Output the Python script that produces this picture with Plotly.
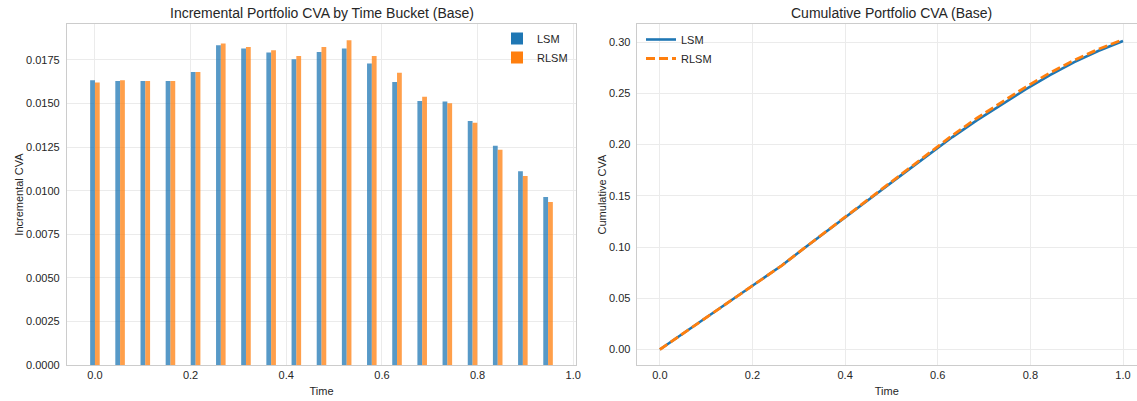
import plotly.graph_objects as go

# ---- data ----
bucket_times = [0.0, 0.0526, 0.1053, 0.1579, 0.2105, 0.2632, 0.3158, 0.3684, 0.4211, 0.4737,
                0.5263, 0.5789, 0.6316, 0.6842, 0.7368, 0.7895, 0.8421, 0.8947, 0.9474]
lsm_incremental = [0.01633, 0.01629, 0.01629, 0.01629, 0.01681, 0.01834, 0.01815, 0.01792, 0.01754, 0.01796,
                   0.01815, 0.01729, 0.01624, 0.01515, 0.01511, 0.01400, 0.01258, 0.01111, 0.00964]
rlsm_incremental = [0.01620, 0.01633, 0.01629, 0.01629, 0.01681, 0.01844, 0.01824, 0.01805, 0.01773, 0.01824,
                    0.01863, 0.01773, 0.01677, 0.01539, 0.01501, 0.01390, 0.01234, 0.01084, 0.00935]

grid_times = [0.0, 0.0526, 0.1053, 0.1579, 0.2105, 0.2632, 0.3158, 0.3684, 0.4211, 0.4737,
              0.5263, 0.5789, 0.6316, 0.6842, 0.7368, 0.7895, 0.8421, 0.8947, 0.9474, 1.0]
lsm_cumulative = [0.0, 0.01633, 0.03262, 0.04891, 0.06520, 0.08201, 0.10035, 0.11850, 0.13642, 0.15396,
                  0.17192, 0.19007, 0.20736, 0.22360, 0.23875, 0.25386, 0.26786, 0.28044, 0.29155, 0.30119]
rlsm_cumulative = [0.0, 0.01620, 0.03253, 0.04882, 0.06511, 0.08192, 0.10036, 0.11860, 0.13665, 0.15438,
                   0.17262, 0.19125, 0.20898, 0.22575, 0.24114, 0.25615, 0.27005, 0.28239, 0.29323, 0.30258]

x_ticks = [0.0, 0.2, 0.4, 0.6, 0.8, 1.0]
left_y_ticks = [0.0, 0.0025, 0.005, 0.0075, 0.01, 0.0125, 0.015, 0.0175]
right_y_ticks = [0.0, 0.05, 0.10, 0.15, 0.20, 0.25, 0.30]

# ---- style ----
W, H = 1137, 401
FONT = "Liberation Sans, Arial, sans-serif"
TXT = "#262626"
GRID = "#ebebeb"
SPINE = "#cccccc"
BLUE = "#1f77b4"
ORANGE = "#ff7f0e"

fig = go.Figure()

fig.add_trace(go.Bar(x=bucket_times, y=lsm_incremental, width=0.01, offset=-0.01,
                     marker=dict(color=BLUE, opacity=0.75, line=dict(width=0)),
                     name="LSM", xaxis="x", yaxis="y", legend="legend"))
fig.add_trace(go.Bar(x=bucket_times, y=rlsm_incremental, width=0.01, offset=0.0,
                     marker=dict(color=ORANGE, opacity=0.75, line=dict(width=0)),
                     name="RLSM", xaxis="x", yaxis="y", legend="legend"))

fig.add_trace(go.Scatter(x=grid_times, y=lsm_cumulative, mode="lines",
                         line=dict(color=BLUE, width=2.6), name="LSM",
                         xaxis="x2", yaxis="y2", legend="legend2"))
fig.add_trace(go.Scatter(x=grid_times, y=rlsm_cumulative, mode="lines",
                         line=dict(color=ORANGE, width=2.8, dash="9px,4px"), name="RLSM",
                         xaxis="x2", yaxis="y2", legend="legend2"))

ydom = [1 - 365 / H, 1 - 24 / H]
axis_common = dict(showgrid=True, gridcolor=GRID, gridwidth=1, zeroline=False,
                   showline=True, linecolor=SPINE, linewidth=1.2, ticks="", automargin=False,
                   tickfont=dict(family=FONT, size=11, color=TXT))

fig.update_layout(
    template="none",
    width=W, height=H,
    margin=dict(l=0, r=0, t=0, b=0, pad=0),
    paper_bgcolor="white", plot_bgcolor="white",
    barmode="overlay",
    font=dict(family=FONT, color=TXT, size=11),
    xaxis=dict(domain=[67 / W, 576 / W], range=[-0.0584, 1.0058], tickvals=x_ticks,
               tickformat=".1f", mirror=True, anchor="y", ticklabelstandoff=0,
               title=dict(text="Time", font=dict(family=FONT, size=11, color=TXT), standoff=7),
               **axis_common),
    yaxis=dict(domain=ydom, range=[0, 0.01956], tickvals=left_y_ticks, tickformat=".4f",
               mirror=True, anchor="x", ticklabelstandoff=4,
               title=dict(text="Incremental CVA", font=dict(family=FONT, size=11, color=TXT), standoff=0),
               **axis_common),
    xaxis2=dict(domain=[636.7 / W, 1.0], range=[-0.05, 1.0302], tickvals=x_ticks,
                tickformat=".1f", mirror=True, anchor="y2", ticklabelstandoff=0,
                title=dict(text="Time", font=dict(family=FONT, size=11, color=TXT), standoff=7),
                **axis_common),
    yaxis2=dict(domain=ydom, range=[-0.01513, 0.31771], tickvals=right_y_ticks, tickformat=".2f",
                mirror=False, anchor="x2", ticklabelstandoff=3,
                title=dict(text="Cumulative CVA", font=dict(family=FONT, size=11, color=TXT), standoff=0),
                **axis_common),
    legend=dict(x=573 / W, y=1 - 24 / H, xanchor="right", yanchor="top",
                bgcolor="rgba(0,0,0,0)", borderwidth=0,
                font=dict(family=FONT, size=11, color=TXT), tracegroupgap=0, itemwidth=30),
    legend2=dict(x=641 / W, y=1 - 25 / H, xanchor="left", yanchor="top",
                 bgcolor="rgba(0,0,0,0)", borderwidth=0,
                 font=dict(family=FONT, size=11, color=TXT), tracegroupgap=0, itemwidth=30),
    annotations=[
        dict(text="Incremental Portfolio CVA by Time Bucket (Base)", x=(67 + 576) / 2 / W, y=1 - 13 / H,
             xref="paper", yref="paper", xanchor="center", yanchor="middle", showarrow=False,
             font=dict(family=FONT, size=14, color=TXT)),
        dict(text="Cumulative Portfolio CVA (Base)", x=(636.7 + 1146) / 2 / W, y=1 - 13 / H,
             xref="paper", yref="paper", xanchor="center", yanchor="middle", showarrow=False,
             font=dict(family=FONT, size=14, color=TXT)),
    ],
)

fig.write_html("out.html", config={"displayModeBar": False},
               post_script="document.body.style.margin='0';document.body.style.padding='0';")
